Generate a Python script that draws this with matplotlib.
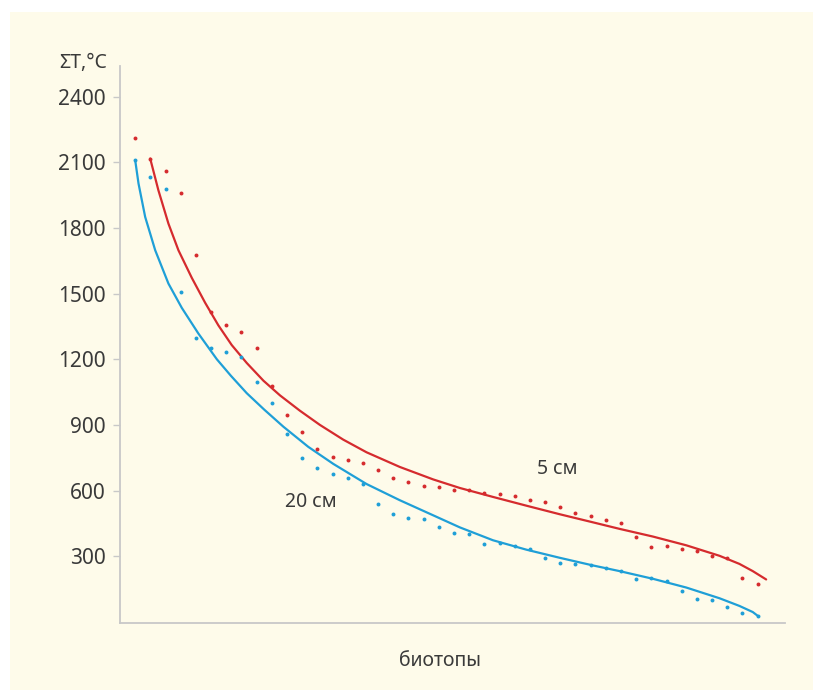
import numpy as np
import matplotlib
matplotlib.use('Agg')
import matplotlib.pyplot as plt
from matplotlib.patches import Rectangle

# точки наблюдений: номер биотопа и сумма температур
biotop = np.arange(42)
t_5cm = [2211, 2114, 2059, 1959, 1675, 1416, 1356, 1324, 1252, 1078,
         944, 868, 788, 754, 742, 728, 696, 658, 637, 621,
         617, 602, 602, 591, 583, 576, 559, 548, 525, 498,
         484, 465, 454, 386, 343, 346, 335, 323, 303, 292,
         200, 174]
t_20cm = [2110, 2033, 1978, 1508, 1296, 1252, 1234, 1211, 1097, 1002,
          858, 751, 705, 678, 658, 632, 541, 495, 477, 468,
          434, 407, 400, 358, 361, 346, 331, 290, 271, 264,
          259, 247, 232, 195, 201, 186, 139, 104, 99, 67,
          40, 27]

# линии тренда
trend5_x = [0.99, 1.53, 2.19, 2.85, 3.73, 4.61, 5.48, 6.36, 7.35, 8.45,
            9.54, 10.85, 12.17, 13.7, 15.24, 17.43, 19.63, 21.38, 23.57, 25.77,
            27.96, 30.15, 31.91, 34.1, 36.3, 38.49, 39.8, 40.68, 41.56]
trend5_y = [2117, 1972, 1820, 1698, 1572, 1458, 1355, 1265, 1183, 1102,
            1035, 965, 900, 833, 775, 708, 651, 612, 571, 531,
            492, 455, 425, 390, 350, 302, 265, 232, 194]
trend20_x = [0, 0.22, 0.66, 1.32, 2.19, 3.07, 4.16, 5.38, 6.3, 7.35,
             8.5, 9.76, 11.4, 13.05, 15.24, 17.43, 19.63, 21.38, 23.57, 25.77,
             27.96, 30.15, 31.91, 34.1, 36.3, 38.49, 39.8, 40.68, 41.0]
trend20_y = [2110, 2003, 1850, 1698, 1546, 1435, 1318, 1200, 1125, 1045,
             970, 892, 800, 722, 630, 556, 487, 432, 373, 330,
             293, 258, 232, 197, 157, 108, 73, 45, 28]

yticks = [300, 600, 900, 1200, 1500, 1800, 2100, 2400]

red = '#d52b2e'
blue = '#1f9fd7'
txt = '#3a3a3a'
plt.rcParams['font.family'] = ['Noto Sans', 'DejaVu Sans']

fig = plt.figure(figsize=(8.23, 7), dpi=100, facecolor='white')
# кремовый фон
fig.patches.append(Rectangle((10 / 823, 10 / 700), 803 / 823, 678 / 700,
                             transform=fig.transFigure, facecolor='#fefbea',
                             edgecolor='none', zorder=-10))
ax = fig.add_axes([0.1458, 0.11, 0.808, 0.7957])
ax.set_facecolor('none')
ax.set_zorder(1)

ax.plot(trend5_x, trend5_y, color=red, lw=1.6, solid_capstyle='round',
        solid_joinstyle='round')
ax.plot(trend20_x, trend20_y, color=blue, lw=1.6, solid_capstyle='round',
        solid_joinstyle='round')
ax.scatter(biotop, t_5cm, s=8, color=red, lw=0, zorder=3)
ax.scatter(biotop, t_20cm, s=8, color=blue, lw=0, zorder=3)

ax.text(27.8, 698, '5 см', fontsize=14, color=txt, ha='center', va='center')
ax.text(11.6, 547, '20 см', fontsize=14, color=txt, ha='center', va='center')

ax.set_xlim(-1, 42.8)
ax.set_ylim(-5, 2540)
ax.set_yticks(yticks)
ax.set_xticks([])
ax.tick_params(axis='y', length=5, width=1, color='#c8c8c8', labelsize=15,
               labelcolor=txt, pad=5)
for s in ['top', 'right']:
    ax.spines[s].set_visible(False)
for s in ['left', 'bottom']:
    ax.spines[s].set_color('#c8c8c8')
    ax.spines[s].set_linewidth(1.3)

fig.text(83 / 823, 1 - 63 / 700, 'ΣT,°C', fontsize=14, color=txt,
         ha='center', va='center')
fig.text(440 / 823, 1 - 661 / 700, 'биотопы', fontsize=14, color=txt,
         ha='center', va='center')

plt.savefig('out.png', dpi=100, facecolor='white')
